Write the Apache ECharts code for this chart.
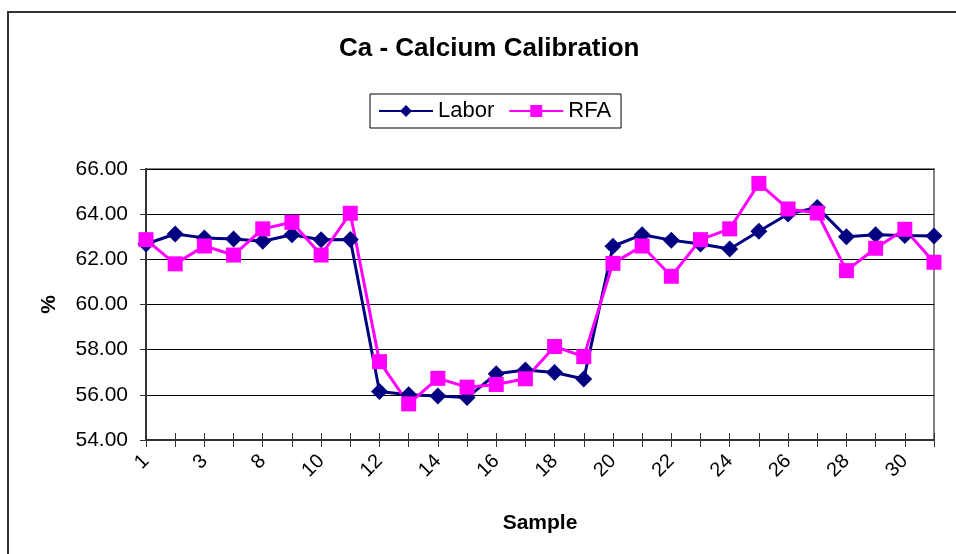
<!DOCTYPE html>
<html>
<head>
<meta charset="utf-8">
<script src="https://cdn.jsdelivr.net/npm/echarts@6/dist/echarts.min.js"></script>
<style>
  html, body { margin: 0; padding: 0; background: #fff; }
  #main { width: 956px; height: 554px; }
</style>
</head>
<body>
<div id="main"></div>
<script>
// sample ids on the x axis (only every other one is labelled)
var samples = ['1', '2', '3', '7', '8', '9', '10', '11', '12', '13', '14', '15', '16', '17',
  '18', '19', '20', '21', '22', '23', '24', '25', '26', '27', '28', '29', '30', '31']

// Labor values (%)
var labor = [62.68, 63.12, 62.95, 62.90, 62.80, 63.09, 62.87, 62.88, 56.15, 56.00,
  55.95, 55.88, 56.93, 57.10, 56.99, 56.70, 62.58, 63.09, 62.85, 62.68,
  62.46, 63.24, 64.01, 64.30, 63.00, 63.09, 63.05, 63.03]

// RFA values (%)
var rfa = [62.87, 61.80, 62.59, 62.19, 63.35, 63.64, 62.19, 64.04, 57.47, 55.60,
  56.73, 56.34, 56.46, 56.71, 58.14, 57.69, 61.82, 62.59, 61.25, 62.87,
  63.35, 65.36, 64.23, 64.05, 61.50, 62.49, 63.33, 61.87]

var yTicks = { min: 54, max: 66, step: 2 }

var font = 'Liberation Sans, Arial, sans-serif'
var myChart = echarts.init(document.getElementById('main'))

var option = {
  backgroundColor: '#fff',
  animation: false,
  title: {
    text: 'Ca - Calcium Calibration',
    left: 334,
    top: 31,
    textStyle: { fontFamily: font, fontSize: 26, fontWeight: 'bold', color: '#000' }
  },
  legend: {
    left: 370,
    top: 94,
    padding: [6, 10, 6, 8],
    borderColor: '#000',
    borderWidth: 1,
    itemWidth: 54,
    itemHeight: 15,
    itemGap: 14,
    textStyle: { fontFamily: font, fontSize: 22, color: '#000' },
    data: ['Labor', 'RFA']
  },
  grid: {
    left: 146,
    right: 22,
    top: 169,
    bottom: 114,
    show: true,
    borderColor: '#808080',
    borderWidth: 2
  },
  xAxis: [{
    type: 'category',
    data: samples,
    boundaryGap: false,
    name: 'Sample',
    nameLocation: 'middle',
    nameGap: 73,
    nameTextStyle: { fontFamily: font, fontSize: 21, fontWeight: 'bold', color: '#000' },
    axisLine: { lineStyle: { color: '#333', width: 2 } },
    axisTick: { alignWithLabel: true, interval: 0, length: 7, lineStyle: { color: '#333' } },
    axisLabel: {
      interval: 1,
      rotate: 45,
      margin: 18,
      fontFamily: font,
      fontSize: 20,
      color: '#000'
    },
    splitLine: { show: false }
  }, {
    // inner half of the crossing ticks
    type: 'category',
    data: samples,
    boundaryGap: false,
    position: 'bottom',
    axisLine: { show: false },
    axisTick: { inside: true, interval: 0, length: 7, lineStyle: { color: '#333' } },
    axisLabel: { show: false },
    splitLine: { show: false }
  }],
  yAxis: {
    type: 'value',
    min: yTicks.min,
    max: yTicks.max,
    interval: yTicks.step,
    name: '%',
    nameLocation: 'middle',
    nameGap: 86,
    nameTextStyle: { fontFamily: font, fontSize: 21, fontWeight: 'bold', color: '#000' },
    axisLine: { show: true, lineStyle: { color: '#333', width: 2 } },
    axisTick: { show: true, length: 6, lineStyle: { color: '#333' } },
    axisLabel: {
      margin: 18,
      fontFamily: font,
      fontSize: 21,
      color: '#000',
      formatter: function (v) { return v.toFixed(2) }
    },
    splitLine: { lineStyle: { color: '#000', width: 1 } }
  },
  graphic: [{
    type: 'rect',
    shape: { x: 8, y: 12, width: 1000, height: 700 },
    style: { fill: 'none', stroke: '#333', lineWidth: 2 },
    silent: true
  }],
  series: [
    {
      name: 'Labor',
      type: 'line',
      data: labor,
      symbol: 'diamond',
      symbolSize: 17,
      showAllSymbol: true,
      lineStyle: { color: '#000080', width: 3 },
      itemStyle: { color: '#000080' }
    },
    {
      name: 'RFA',
      type: 'line',
      data: rfa,
      symbol: 'rect',
      symbolSize: 15,
      showAllSymbol: true,
      lineStyle: { color: '#FF00FF', width: 3 },
      itemStyle: { color: '#FF00FF' }
    }
  ]
}
myChart.setOption(option)
</script>
</body>
</html>
